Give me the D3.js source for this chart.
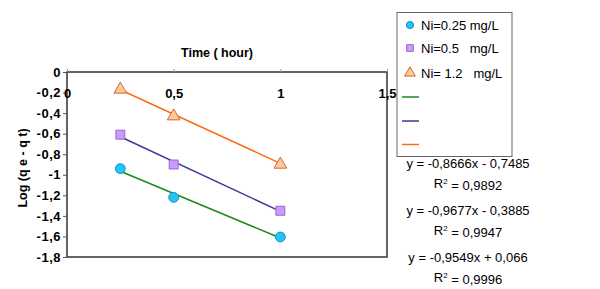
<!DOCTYPE html>
<html>
<head>
<meta charset="utf-8">
<script src="https://cdn.jsdelivr.net/npm/d3@7"></script>
<style>
  body { margin: 0; background: #fff; }
  svg text { font-family: Arial, "Liberation Sans", sans-serif; fill: #000; white-space: pre; }
</style>
</head>
<body>
<div id="chart"></div>
<script>
// Data
const times = [0.25, 0.5, 1];
const ni025 = [-0.94, -1.22, -1.605];
const ni05 = [-0.61, -0.90, -1.35];
const ni12 = [-0.17, -0.43, -0.90];
const seriesNames = ["Ni=0.25 mg/L", "Ni=0.5   mg/L", "Ni= 1.2   mg/L"];
// trendline coefficients (slope, intercept) as printed
const slopes = [-0.8666, -0.9677, -0.9549];
const intercepts = [-0.7485, -0.3885, 0.066];
const eqLabels = ["y = -0,8666x - 0,7485", "y = -0,9677x - 0,3885", "y = -0,9549x + 0,066"];
const r2Labels = ["0,9892", "0,9947", "0,9996"];
const xTicks = [0, 0.5, 1, 1.5];
const yTicks = [0, -0.2, -0.4, -0.6, -0.8, -1, -1.2, -1.4, -1.6, -1.8];

const width = 600, height = 289;
const margin = {top: 72, right: 213, bottom: 32, left: 67};

const svg = d3.select("#chart").append("svg")
    .attr("width", width)
    .attr("height", height);

const x = d3.scaleLinear().domain([0, 1.5]).range([margin.left, width - margin.right]);
const y = d3.scaleLinear().domain([0, -1.8]).range([margin.top, height - margin.bottom]);

const fmt = d => String(d).replace(".", ",");

// Plot frame
svg.append("rect")
    .attr("x", x(0)).attr("y", y(0))
    .attr("width", x(1.5) - x(0)).attr("height", y(-1.8) - y(0))
    .attr("fill", "none").attr("stroke", "#333").attr("stroke-width", 1.5);

// Y axis
const yAxis = svg.append("g")
    .attr("transform", `translate(${x(0)},0)`)
    .call(d3.axisLeft(y).tickValues(yTicks).tickFormat(fmt).tickSize(4).tickPadding(2));
yAxis.select(".domain").remove();
yAxis.selectAll("line").attr("stroke", "#555");
yAxis.selectAll("text").style("font-size", "13px").style("font-weight", "bold")
    .style("letter-spacing", "0.5px").attr("fill", "#000");

// X axis sits on the zero line, labels below it
const xAxis = svg.append("g")
    .attr("transform", `translate(0,${y(0)})`)
    .call(d3.axisTop(x).tickValues(xTicks).tickFormat(fmt).tickSize(3));
xAxis.select(".domain").remove();
xAxis.selectAll("line").attr("stroke", "#999");
xAxis.selectAll("text")
    .attr("y", 21).attr("dy", "0.35em")
    .style("font-size", "13px").style("font-weight", "bold").attr("fill", "#000");

// Axis titles
svg.append("text")
    .attr("x", 217).attr("y", 57)
    .attr("text-anchor", "middle")
    .style("font-size", "12.5px").style("font-weight", "bold")
    .text("Time ( hour)");

svg.append("text")
    .attr("transform", `translate(27,168) rotate(-90)`)
    .attr("text-anchor", "middle")
    .style("font-size", "12.5px").style("font-weight", "bold")
    .text("Log (q e - q t)");

// Trendlines
const lineColors = ["#1a8a1a", "#3a3a9a", "#ff6a10"];
const line = d3.line().x(d => x(d[0])).y(d => y(d[1]));
slopes.forEach((m, i) => {
    const pts = [times[0], times[times.length - 1]].map(t => [t, m * t + intercepts[i]]);
    svg.append("path")
        .attr("d", line(pts))
        .attr("fill", "none")
        .attr("stroke", lineColors[i])
        .attr("stroke-width", 1.5);
});

// Markers
const styles = [
    {type: d3.symbolCircle, size: 75, fill: "#22c8f5", stroke: "#1188cc"},
    {type: d3.symbolSquare, size: 80, fill: "#cc99ff", stroke: "#9966cc"},
    {type: d3.symbolTriangle, size: 70, fill: "#ffcc99", stroke: "#cc6633"}
];
[ni025, ni05, ni12].forEach((vals, i) => {
    svg.append("g").selectAll("path")
        .data(vals)
        .join("path")
        .attr("transform", (d, j) => `translate(${x(times[j])},${y(d)})`)
        .attr("d", d3.symbol().type(styles[i].type).size(styles[i].size))
        .attr("fill", styles[i].fill)
        .attr("stroke", styles[i].stroke)
        .attr("stroke-width", 1);
});

// Legend
const legend = svg.append("g");
legend.append("rect")
    .attr("x", 397).attr("y", 12.5)
    .attr("width", 115).attr("height", 144)
    .attr("fill", "#fff").attr("stroke", "#666").attr("stroke-width", 1);

const legY = [25, 48, 73];
const legendSizes = [40, 45, 50];
seriesNames.forEach((name, i) => {
    legend.append("path")
        .attr("transform", `translate(410,${legY[i]})`)
        .attr("d", d3.symbol().type(styles[i].type).size(legendSizes[i]))
        .attr("fill", styles[i].fill)
        .attr("stroke", styles[i].stroke);
    legend.append("text")
        .attr("x", 421).attr("y", legY[i]).attr("dy", "0.35em")
        .style("font-size", "13px")
        .text(name);
});
[97, 121, 144.5].forEach((ly, i) => {
    legend.append("line")
        .attr("x1", 402).attr("x2", 419)
        .attr("y1", ly).attr("y2", ly)
        .attr("stroke", lineColors[i]).attr("stroke-width", 1.5);
});

// Trendline equations
const eqY = [163, 210, 257];
eqLabels.forEach((eq, i) => {
    svg.append("text")
        .attr("x", 468).attr("y", eqY[i]).attr("dy", "0.35em")
        .attr("text-anchor", "middle")
        .style("font-size", "13px")
        .text(eq);
    const r = svg.append("text")
        .attr("x", 468).attr("y", eqY[i] + 20).attr("dy", "0.35em")
        .attr("text-anchor", "middle")
        .style("font-size", "13px");
    r.append("tspan").text("R");
    r.append("tspan").attr("dy", "-0.45em").style("font-size", "8px").text("2");
    r.append("tspan").attr("dy", "0.45em").text(" = " + r2Labels[i]);
});
</script>
</body>
</html>
